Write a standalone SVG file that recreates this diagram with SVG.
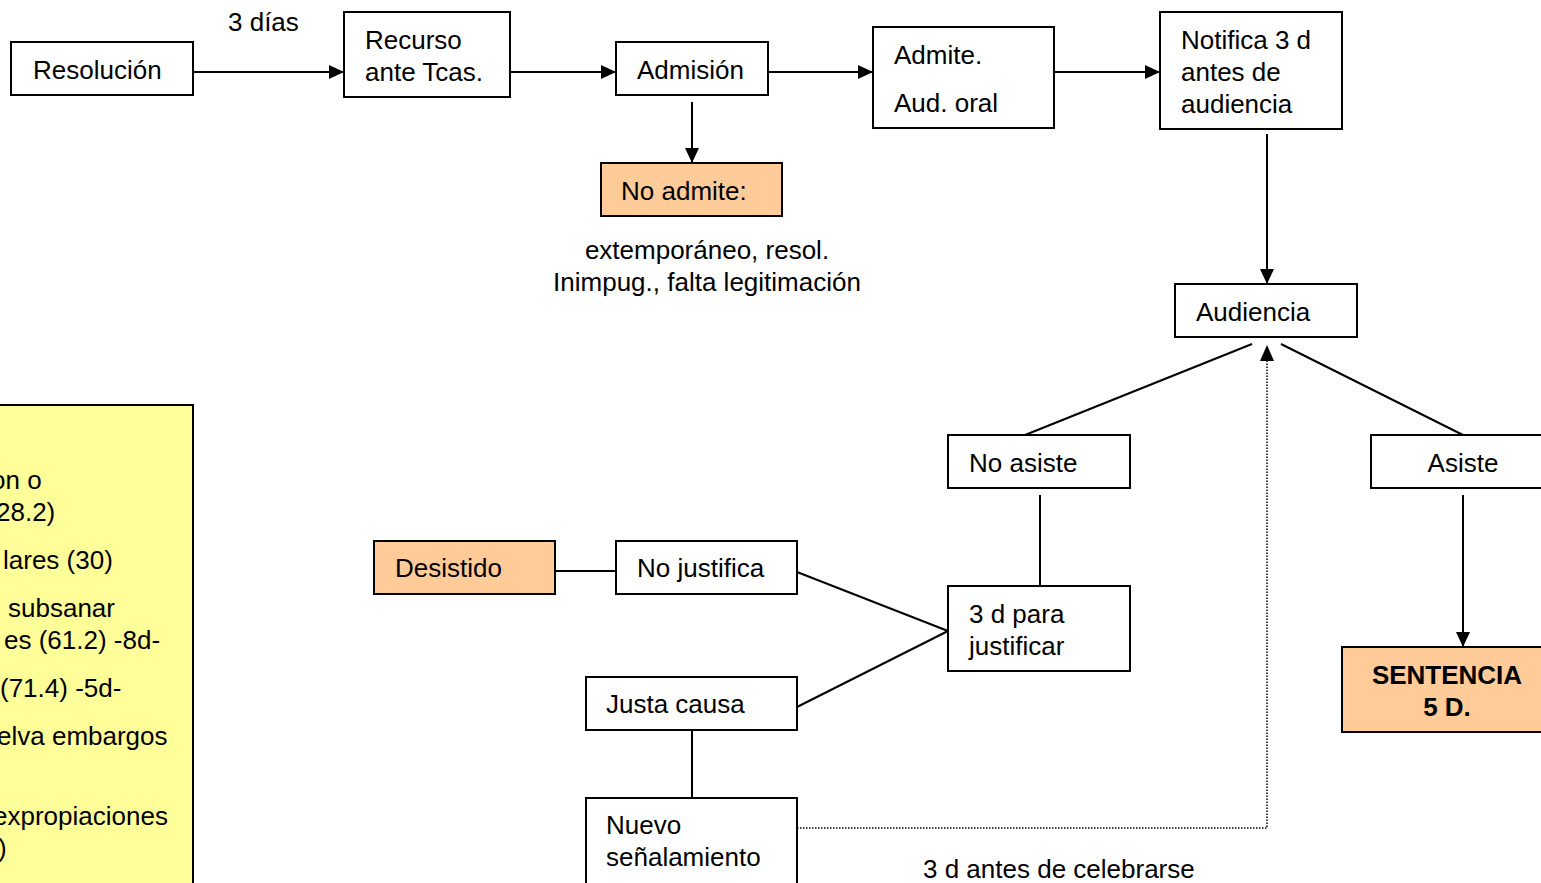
<svg xmlns="http://www.w3.org/2000/svg" width="1541" height="883" viewBox="0 0 1541 883">
<style>
text{font-family:"Liberation Sans",Arial,sans-serif;font-size:26px;fill:#000}
.b{fill:#fff;stroke:#000;stroke-width:2}
.p{fill:#FFCC99;stroke:#000;stroke-width:2}
.y{fill:#FFFF99;stroke:#000;stroke-width:2}
.c{stroke:#000;stroke-width:2;fill:none}
.d{stroke:#000;stroke-width:1.5;fill:none;stroke-dasharray:1.5 1.5}
.m{text-anchor:middle}
.bold{font-weight:bold}
</style>
<defs>
<marker id="a" viewBox="0 0 15 14" refX="15" refY="7" markerWidth="15" markerHeight="14" markerUnits="userSpaceOnUse" orient="auto">
<path d="M0,0L15,7L0,14z" fill="#000"/>
</marker>
</defs>
<rect width="1541" height="883" fill="#fff"/>
<g id="connectors">
<line class="c" x1="193" y1="72" x2="344" y2="72" marker-end="url(#a)"/>
<line class="c" x1="510" y1="72" x2="616" y2="72" marker-end="url(#a)"/>
<line class="c" x1="768" y1="72" x2="873" y2="72" marker-end="url(#a)"/>
<line class="c" x1="1054" y1="72" x2="1160" y2="72" marker-end="url(#a)"/>
<line class="c" x1="692" y1="102" x2="692" y2="163" marker-end="url(#a)"/>
<line class="c" x1="1267" y1="134" x2="1267" y2="284" marker-end="url(#a)"/>
<line class="c" x1="1252" y1="344" x2="1025" y2="435"/>
<line class="c" x1="1281" y1="344" x2="1463" y2="435"/>
<polyline class="d" points="797,828 1267,828 1267,360"/>
<path d="M1260,361L1267,345L1274,361z" fill="#000"/>
<line class="c" x1="1040" y1="495" x2="1040" y2="586"/>
<line class="c" x1="1463" y1="495" x2="1463" y2="647" marker-end="url(#a)"/>
<line class="c" x1="797" y1="572" x2="948" y2="631"/>
<line class="c" x1="797" y1="707" x2="948" y2="631"/>
<line class="c" x1="555" y1="571" x2="616" y2="571"/>
<line class="c" x1="692" y1="730" x2="692" y2="798"/>
</g>
<g id="label-3dias"><text x="228" y="31">3 días</text></g>
<g id="resolucion"><rect class="b" x="11" y="42" width="182" height="53"/><text x="33" y="79">Resolución</text></g>
<g id="recurso"><rect class="b" x="344" y="12" width="166" height="85"/><text x="365" y="49">Recurso</text><text x="365" y="81">ante Tcas.</text></g>
<g id="admision"><rect class="b" x="616" y="42" width="152" height="53"/><text x="637" y="79">Admisión</text></g>
<g id="admite"><rect class="b" x="873" y="27" width="181" height="101"/><text x="894" y="64">Admite.</text><text x="894" y="112">Aud. oral</text></g>
<g id="notifica"><rect class="b" x="1160" y="12" width="182" height="117"/><text x="1181" y="49">Notifica 3 d</text><text x="1181" y="81">antes de</text><text x="1181" y="113">audiencia</text></g>
<g id="no-admite"><rect class="p" x="601" y="163" width="181" height="53"/><text x="621" y="200">No admite:</text></g>
<g id="no-admite-label"><text class="m" x="707" y="259">extemporáneo, resol.</text><text class="m" x="707" y="291">Inimpug., falta legitimación</text></g>
<g id="audiencia"><rect class="b" x="1175" y="284" width="182" height="53"/><text x="1196" y="321">Audiencia</text></g>
<g id="no-asiste"><rect class="b" x="948" y="435" width="182" height="53"/><text x="969" y="472">No asiste</text></g>
<g id="asiste"><rect class="b" x="1371" y="435" width="182" height="53"/><text class="m" x="1463" y="472">Asiste</text></g>
<g id="justificar"><rect class="b" x="948" y="586" width="182" height="85"/><text x="969" y="623">3 d para</text><text x="969" y="655">justificar</text></g>
<g id="no-justifica"><rect class="b" x="616" y="541" width="181" height="53"/><text x="637" y="577">No justifica</text></g>
<g id="desistido"><rect class="p" x="374" y="541" width="181" height="53"/><text x="395" y="577">Desistido</text></g>
<g id="justa-causa"><rect class="b" x="586" y="677" width="211" height="53"/><text x="606" y="713">Justa causa</text></g>
<g id="nuevo"><rect class="b" x="586" y="798" width="211" height="95"/><text x="606" y="834">Nuevo</text><text x="606" y="866">señalamiento</text></g>
<g id="sentencia"><rect class="p" x="1342" y="647" width="210" height="85"/><text class="m bold" x="1447" y="684">SENTENCIA</text><text class="m bold" x="1447" y="716">5 D.</text></g>
<g id="label-celebrarse"><text x="923" y="878">3 d antes de celebrarse</text></g>
<g id="yellow-box"><rect class="y" x="-10" y="405" width="203" height="490"/>
<text x="-9" y="489">on o</text>
<text x="-4" y="521">28.2)</text>
<text x="3" y="569">lares (30)</text>
<text x="8" y="617">subsanar</text>
<text x="4" y="649">es (61.2) -8d-</text>
<text x="0" y="697">(71.4) -5d-</text>
<text x="-3" y="745">elva embargos</text>
<text x="-7" y="825">expropiaciones</text>
<text x="-2" y="857">)</text>
</g>
</svg>
